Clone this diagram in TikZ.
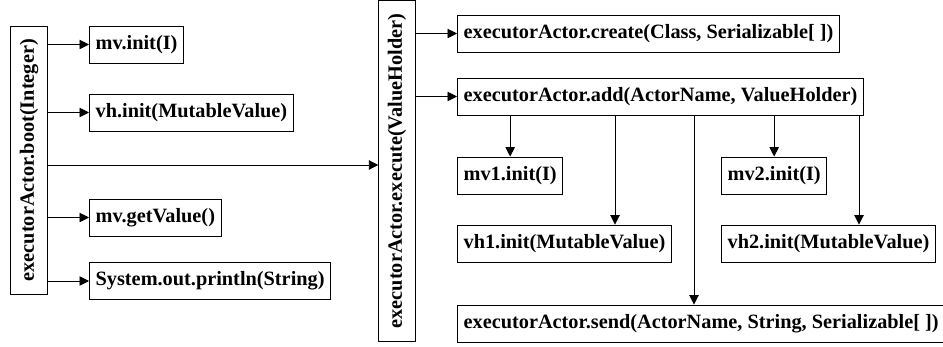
\documentclass[tikz,border=0pt]{standalone}
\usepackage{fontspec}
\usepackage{graphicx}
\setmainfont{Liberation Serif}
\usetikzlibrary{arrows.meta}
\begin{document}
\begin{tikzpicture}[x=1pt,y=-1pt,
  box/.style={draw, line width=0.9pt, rectangle, inner xsep=6.2pt, inner ysep=0pt,
    minimum height=37pt, anchor=west, font=\fontsize{20.3}{24}\selectfont\bfseries},
  vbox/.style={draw, line width=0.9pt, rectangle, inner sep=0pt,
    font=\fontsize{20.3}{24}\selectfont\bfseries},
  arr/.style={line width=0.9pt, -{Triangle[length=9.5pt,width=9.5pt]}},
  ln/.style={line width=0.9pt}]
\useasboundingbox (0,0) rectangle (943,347);
% left part
\node[vbox, minimum width=37pt, minimum height=268.5pt] (boot) at (29,160.25)
  {\rotatebox{90}{executorActor.boot(Integer)}};
\node[box] (mvinit) at (89,44.5) {mv.init(I)};
\node[box] (vhinit) at (89,112.5) {vh.init(MutableValue)};
\node[box] (mvget) at (89,217.5) {mv.getValue()};
\node[box] (sysout) at (89,281) {System.out.println(String)};
% execute
\node[vbox, minimum width=36.5pt, minimum height=341pt] (exec) at (397,171)
  {\rotatebox{90}{executorActor.execute(ValueHolder)}};
% right part
\node[box] (create) at (457,33.5) {executorActor.create(Class, Serializable[ ])};
\node[box] (add) at (457,96.5) {executorActor.add(ActorName, ValueHolder)};
\node[box] (mv1) at (457,175.5) {mv1.init(I)};
\node[box] (mv2) at (721,175.5) {mv2.init(I)};
\node[box] (vh1) at (457,243.5) {vh1.init(MutableValue)};
\node[box] (vh2) at (721,243.5) {vh2.init(MutableValue)};
\node[box] (send) at (457,323.5) {executorActor.send(ActorName, String, Serializable[ ])};
% helper coordinates
\coordinate (ybe) at (0,165);
\coordinate (xvh1) at (615,0);
\coordinate (xsend) at (694,0);
\coordinate (xvh2) at (859,0);
% connectors left
\draw[arr] (boot.east |- mvinit.west) -- (mvinit.west);
\draw[arr] (boot.east |- vhinit.west) -- (vhinit.west);
\draw[arr] (boot.east |- mvget.west) -- (mvget.west);
\draw[arr] (boot.east |- sysout.west) -- (sysout.west);
\draw[arr] (boot.east |- ybe) -- (exec.west |- ybe);
% connectors right
\draw[arr] (exec.east |- create.west) -- (create.west);
\draw[arr] (exec.east |- add.west) -- (add.west);
\draw[arr] (add.south -| mv1.north) -- (mv1.north);
\draw[arr] (add.south -| mv2.north) -- (mv2.north);
\draw[arr] (add.south -| xvh1) -- (vh1.north -| xvh1);
\draw[arr] (add.south -| xvh2) -- (vh2.north -| xvh2);
\draw[arr] (add.south -| xsend) -- (send.north -| xsend);
\end{tikzpicture}
\end{document}
